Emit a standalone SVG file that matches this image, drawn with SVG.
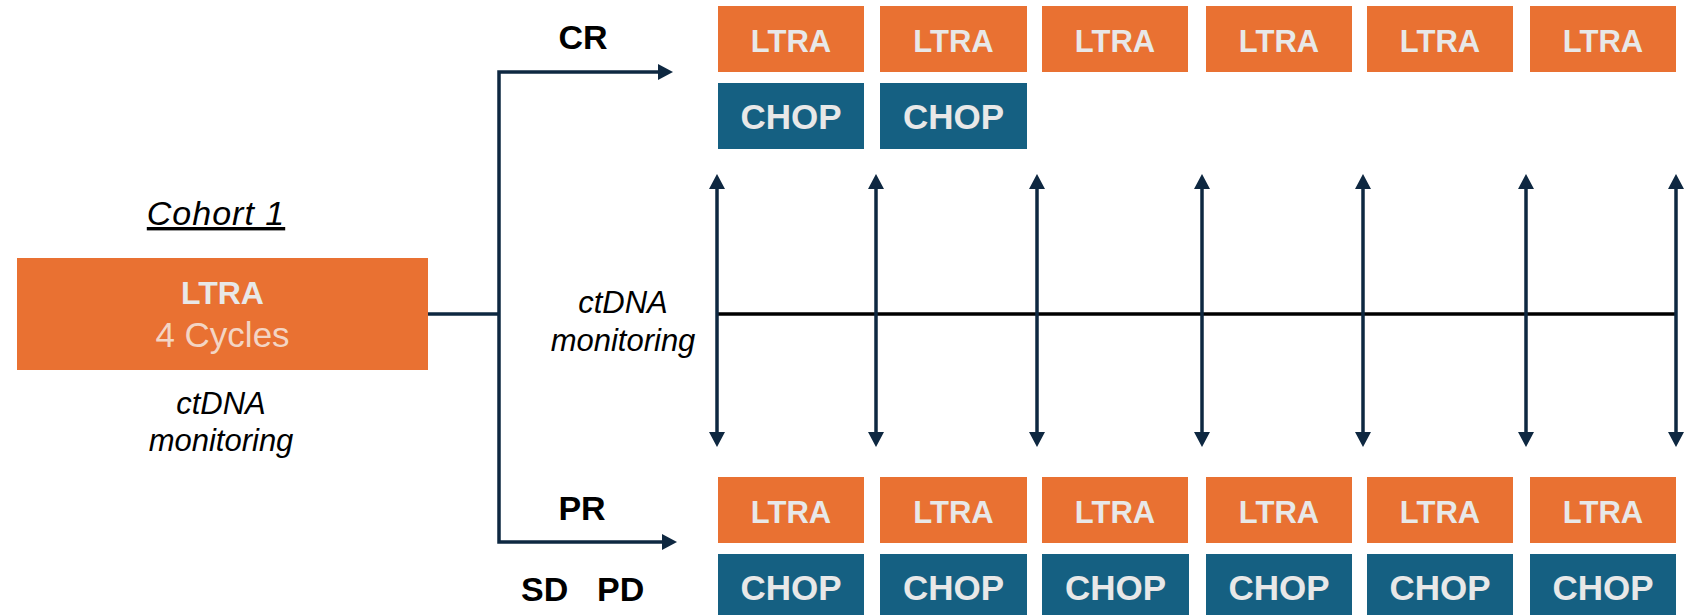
<svg xmlns="http://www.w3.org/2000/svg" width="1699" height="615" viewBox="0 0 1699 615">
  <style>
    .ltra { fill: #E97132; }
    .chop { fill: #156082; }
    .btxt { font-family: "Liberation Sans", Arial, sans-serif; font-weight: bold; font-size: 31px; fill: #E8E8E8; text-anchor: middle; }
    .ctxt { font-family: "Liberation Sans", Arial, sans-serif; font-weight: bold; font-size: 35px; fill: #E8E8E8; text-anchor: middle; }
    .lbl { font-family: "Liberation Sans", Arial, sans-serif; font-weight: bold; font-size: 34px; fill: #000; text-anchor: middle; }
    .ital { font-family: "Liberation Sans", Arial, sans-serif; font-style: italic; font-size: 31px; fill: #000; text-anchor: middle; }
    .conn { fill: none; stroke: #0E2841; stroke-width: 3.5; }
    .tick { fill: none; stroke: #0E2841; stroke-width: 3.5; marker-start: url(#head); marker-end: url(#head); }
  </style>
  <defs>
    <marker id="head" markerUnits="userSpaceOnUse" viewBox="0 0 15 16" refX="0" refY="8" markerWidth="15" markerHeight="16" orient="auto-start-reverse">
      <path d="M0,0 L15,8 L0,16 z" fill="#0E2841"/>
    </marker>
  </defs>
  <rect width="1699" height="615" fill="#ffffff"/>

  <!-- Cohort heading -->
  <text id="cohort-title" x="216" y="225" class="ital" style="font-size:34px; letter-spacing:1px" text-decoration="underline">Cohort 1</text>

  <!-- Induction block -->
  <g id="induction">
    <rect x="17" y="258" width="411" height="112" class="ltra"/>
    <text x="222.5" y="304" class="btxt" style="font-size:32px">LTRA</text>
    <text x="222.5" y="347" style="font-family:'Liberation Sans', Arial, sans-serif; font-size:35px; fill:#F3D5C4; text-anchor:middle">4 Cycles</text>
  </g>
  <g id="ctdna-left">
    <text x="221" y="414" class="ital">ctDNA</text>
    <text x="221" y="451" class="ital">monitoring</text>
  </g>

  <!-- Response labels -->
  <text id="label-cr" x="583" y="49" class="lbl">CR</text>
  <text id="label-pr" x="582" y="520" class="lbl">PR</text>
  <text id="label-sdpd" y="601" class="lbl" style="text-anchor:start"><tspan x="521">SD</tspan><tspan x="597">PD</tspan></text>

  <g id="ctdna-mid">
    <text x="623" y="313" class="ital">ctDNA</text>
    <text x="623" y="351" class="ital">monitoring</text>
  </g>

  <!-- CR arm: maintenance cycles -->
  <g id="cr-ltra">
    <rect x="718" y="6" width="146" height="66" class="ltra"/><text x="791" y="52" class="btxt">LTRA</text>
    <rect x="880" y="6" width="147" height="66" class="ltra"/><text x="953.5" y="52" class="btxt">LTRA</text>
    <rect x="1042" y="6" width="146" height="66" class="ltra"/><text x="1115" y="52" class="btxt">LTRA</text>
    <rect x="1206" y="6" width="146" height="66" class="ltra"/><text x="1279" y="52" class="btxt">LTRA</text>
    <rect x="1367" y="6" width="146" height="66" class="ltra"/><text x="1440" y="52" class="btxt">LTRA</text>
    <rect x="1530" y="6" width="146" height="66" class="ltra"/><text x="1603" y="52" class="btxt">LTRA</text>
  </g>
  <g id="cr-chop">
    <rect x="718" y="83" width="146" height="66" class="chop"/><text x="791" y="129" class="ctxt">CHOP</text>
    <rect x="880" y="83" width="147" height="66" class="chop"/><text x="953.5" y="129" class="ctxt">CHOP</text>
  </g>

  <!-- PR / SD / PD arm -->
  <g id="pr-ltra">
    <rect x="718" y="477" width="146" height="66" class="ltra"/><text x="791" y="523" class="btxt">LTRA</text>
    <rect x="880" y="477" width="147" height="66" class="ltra"/><text x="953.5" y="523" class="btxt">LTRA</text>
    <rect x="1042" y="477" width="146" height="66" class="ltra"/><text x="1115" y="523" class="btxt">LTRA</text>
    <rect x="1206" y="477" width="146" height="66" class="ltra"/><text x="1279" y="523" class="btxt">LTRA</text>
    <rect x="1367" y="477" width="146" height="66" class="ltra"/><text x="1440" y="523" class="btxt">LTRA</text>
    <rect x="1530" y="477" width="146" height="66" class="ltra"/><text x="1603" y="523" class="btxt">LTRA</text>
  </g>
  <g id="pr-chop">
    <rect x="718" y="554" width="146" height="70" class="chop"/><text x="791" y="600" class="ctxt">CHOP</text>
    <rect x="880" y="554" width="147" height="70" class="chop"/><text x="953.5" y="600" class="ctxt">CHOP</text>
    <rect x="1042" y="554" width="147" height="70" class="chop"/><text x="1115.5" y="600" class="ctxt">CHOP</text>
    <rect x="1206" y="554" width="146" height="70" class="chop"/><text x="1279" y="600" class="ctxt">CHOP</text>
    <rect x="1367" y="554" width="146" height="70" class="chop"/><text x="1440" y="600" class="ctxt">CHOP</text>
    <rect x="1530" y="554" width="146" height="70" class="chop"/><text x="1603" y="600" class="ctxt">CHOP</text>
  </g>

  <!-- Connectors -->
  <g id="connectors">
    <path d="M428,314 H499" class="conn"/>
    <path d="M499,314 V72 H658" class="conn" marker-end="url(#head)"/>
    <path d="M499,314 V542 H662" class="conn" marker-end="url(#head)"/>
    <!-- monitoring timeline -->
    <line x1="717" y1="314" x2="1676" y2="314" stroke="#000" stroke-width="3.5"/>
    <line x1="717" y1="189" x2="717" y2="432" class="tick"/>
    <line x1="876" y1="189" x2="876" y2="432" class="tick"/>
    <line x1="1037" y1="189" x2="1037" y2="432" class="tick"/>
    <line x1="1202" y1="189" x2="1202" y2="432" class="tick"/>
    <line x1="1363" y1="189" x2="1363" y2="432" class="tick"/>
    <line x1="1526" y1="189" x2="1526" y2="432" class="tick"/>
    <line x1="1676" y1="189" x2="1676" y2="432" class="tick"/>
  </g>
</svg>
